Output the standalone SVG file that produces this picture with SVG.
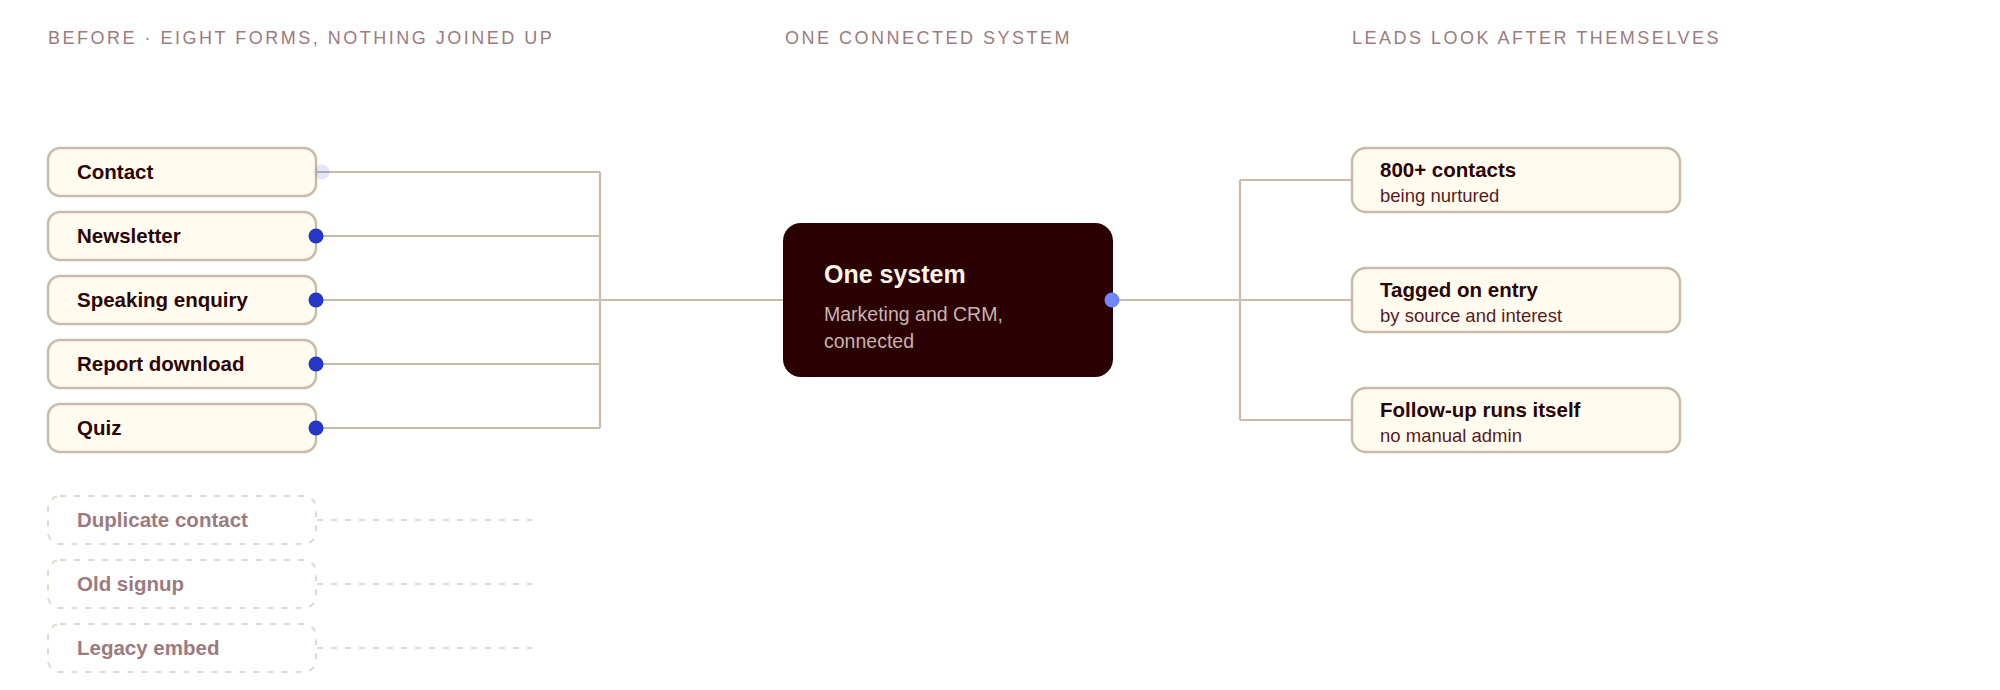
<svg xmlns="http://www.w3.org/2000/svg" width="2000" height="690" viewBox="0 0 2000 690">
<style>
.hdr{font-family:"Liberation Sans",Arial,sans-serif;font-size:18px;fill:#9b7b7e;letter-spacing:2.5px}
.box{fill:#fffcef;stroke:#c9bba8;stroke-width:2.5}
.ghost{fill:none;stroke:#e2dacd;stroke-width:2;stroke-dasharray:6 8}
.lbl{font-family:"Liberation Sans",Arial,sans-serif;font-size:20.5px;font-weight:bold;fill:#2a0505}
.glbl{font-family:"Liberation Sans",Arial,sans-serif;font-size:20.5px;font-weight:bold;fill:#9b7b7e}
.sub{font-family:"Liberation Sans",Arial,sans-serif;font-size:18.5px;fill:#5a1a1e}
.wire{fill:none;stroke:#c9bba8;stroke-width:2.2}
.gwire{fill:none;stroke:#e2dacd;stroke-width:2;stroke-dasharray:6 8}
.dot{fill:#2437c8}
</style>
<rect width="2000" height="690" fill="#ffffff"/>
<g id="headers">
<text class="hdr" x="48" y="44">BEFORE · EIGHT FORMS, NOTHING JOINED UP</text>
<text class="hdr" x="785" y="44">ONE CONNECTED SYSTEM</text>
<text class="hdr" x="1352" y="44">LEADS LOOK AFTER THEMSELVES</text>
</g>
<g id="connectors">
<path class="wire" d="M316 172H600M316 236H600M316 364H600M316 428H600M600 172V428M316 300H783"/>
<path class="wire" d="M1113 300H1352M1240 180V420M1240 180H1352M1240 420H1352"/>
<path class="gwire" d="M317 520H532M317 584H532M317 648H532"/>
</g>
<g id="n-contact"><rect class="box" x="48" y="148" width="268" height="48" rx="12"/><text class="lbl" x="77" y="179">Contact</text></g>
<g id="n-newsletter"><rect class="box" x="48" y="212" width="268" height="48" rx="12"/><text class="lbl" x="77" y="243">Newsletter</text></g>
<g id="n-speaking"><rect class="box" x="48" y="276" width="268" height="48" rx="12"/><text class="lbl" x="77" y="307">Speaking enquiry</text></g>
<g id="n-report"><rect class="box" x="48" y="340" width="268" height="48" rx="12"/><text class="lbl" x="77" y="371">Report download</text></g>
<g id="n-quiz"><rect class="box" x="48" y="404" width="268" height="48" rx="12"/><text class="lbl" x="77" y="435">Quiz</text></g>
<g id="n-duplicate"><rect class="ghost" x="48" y="496" width="268" height="48" rx="12"/><text class="glbl" x="77" y="527">Duplicate contact</text></g>
<g id="n-oldsignup"><rect class="ghost" x="48" y="560" width="268" height="48" rx="12"/><text class="glbl" x="77" y="591">Old signup</text></g>
<g id="n-legacy"><rect class="ghost" x="48" y="624" width="268" height="48" rx="12"/><text class="glbl" x="77" y="655">Legacy embed</text></g>
<g id="ports">
<circle cx="322" cy="172" r="7.5" fill="#2437c8" opacity="0.13"/>
<circle class="dot" cx="316" cy="236" r="7.5"/>
<circle class="dot" cx="316" cy="300" r="7.5"/>
<circle class="dot" cx="316" cy="364" r="7.5"/>
<circle class="dot" cx="316" cy="428" r="7.5"/>
</g>
<g id="n-system">
<rect x="783" y="223" width="330" height="154" rx="18" fill="#2a0002"/>
<text x="824" y="283" font-family="Liberation Sans, Arial, sans-serif" font-size="25" font-weight="bold" fill="#fdf5e6">One system</text>
<text x="824" y="321" font-family="Liberation Sans, Arial, sans-serif" font-size="19.5" fill="#c9b4af">Marketing and CRM,</text>
<text x="824" y="348" font-family="Liberation Sans, Arial, sans-serif" font-size="19.5" fill="#c9b4af">connected</text>
<circle cx="1112" cy="300" r="7.5" fill="#6e87ff"/>
</g>
<g id="n-contacts"><rect class="box" x="1352" y="148" width="328" height="64" rx="14"/><text class="lbl" x="1380" y="177">800+ contacts</text><text class="sub" x="1380" y="202">being nurtured</text></g>
<g id="n-tagged"><rect class="box" x="1352" y="268" width="328" height="64" rx="14"/><text class="lbl" x="1380" y="297">Tagged on entry</text><text class="sub" x="1380" y="322">by source and interest</text></g>
<g id="n-followup"><rect class="box" x="1352" y="388" width="328" height="64" rx="14"/><text class="lbl" x="1380" y="417">Follow-up runs itself</text><text class="sub" x="1380" y="442">no manual admin</text></g>
</svg>
